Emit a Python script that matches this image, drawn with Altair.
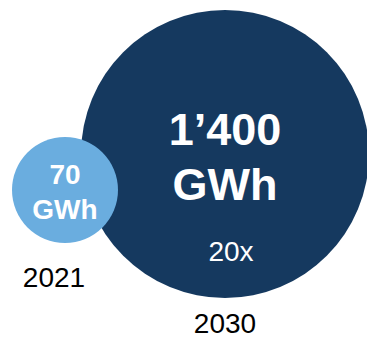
import altair as alt
import pandas as pd

years = [2021, 2030]
gwh = [70, 1400]
value_labels = ["70\nGWh", "1\u2019400\nGWh"]
year_labels = ["2021", "2030"]
colors = ["#6AADDF", "#15395F"]

df = pd.DataFrame({"year": years, "gwh": gwh, "label": value_labels, "ylabel": year_labels, "color": colors})
ratio_label = f"{gwh[1] // gwh[0]}x"

W, H = 367, 339
x_enc = alt.X("year:Q", scale=alt.Scale(domain=[2021, 2030], range=[65, 225]), axis=None)
y_enc = alt.Y("gwh:Q", scale=alt.Scale(domain=[70, 1400], range=[190, 154]), axis=None)
FONT = "Liberation Sans"

base = alt.Chart(df).encode(x=x_enc, y=y_enc)

bubbles = base.mark_circle(opacity=1).encode(
    size=alt.Size("gwh:Q", scale=alt.Scale(domain=[70, 1400], range=[11236, 82944]), legend=None),
    color=alt.Color("color:N", scale=None),
    order=alt.Order("gwh:Q", sort="descending"),
)

small_lbl = base.transform_filter(alt.datum.year == 2021).mark_text(
    font=FONT, fontWeight="bold", fontSize=28, color="white", baseline="alphabetic",
    lineBreak="\n", lineHeight=35, dy=-6, align="center"
).encode(text="label:N")

big_lbl = base.transform_filter(alt.datum.year == 2030).mark_text(
    font=FONT, fontWeight="bold", fontSize=45, color="white", baseline="alphabetic",
    lineBreak="\n", lineHeight=55, dy=-9, align="center"
).encode(text="label:N")

ratio = base.transform_filter(alt.datum.year == 2030).mark_text(
    font=FONT, fontSize=28, color="white", baseline="alphabetic", dx=6, dy=107, align="center"
).encode(text=alt.value(ratio_label))

yr_small = base.transform_filter(alt.datum.year == 2021).mark_text(
    font=FONT, fontSize=28, color="black", baseline="alphabetic", dx=-11, dy=97, align="center"
).encode(text="ylabel:N")

yr_big = base.transform_filter(alt.datum.year == 2030).mark_text(
    font=FONT, fontSize=28, color="black", baseline="alphabetic", dx=0, dy=179, align="center"
).encode(text="ylabel:N")

chart = alt.layer(bubbles, small_lbl, big_lbl, ratio, yr_small, yr_big).properties(
    width=W, height=H, autosize=alt.AutoSizeParams(type="none"), padding=0,
    background="white"
).configure_view(stroke=None)

chart.save("out.html", embed_options={"renderer": "svg", "actions": False})
